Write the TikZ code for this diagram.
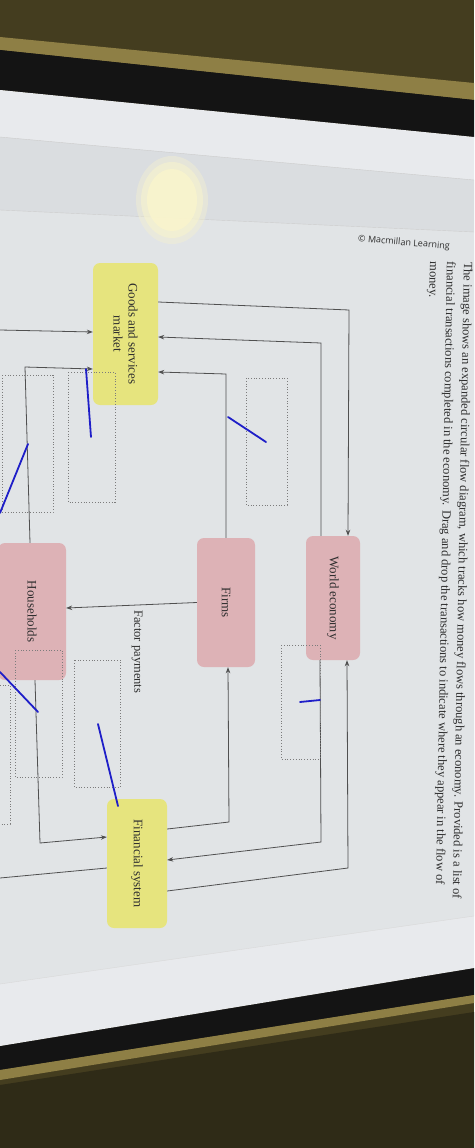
\documentclass[tikz,border=0pt]{standalone}
\usepackage{fontspec}
\setmainfont{Liberation Serif}
\newfontfamily\creditfont{Open Sans}
\usetikzlibrary{arrows.meta, positioning}

\definecolor{fabric}{HTML}{443D1F}
\definecolor{fabricdark}{HTML}{2F2B17}
\definecolor{goldedge}{HTML}{8E7F45}
\definecolor{bezel}{HTML}{141414}
\definecolor{screenlight}{HTML}{E8EAED}
\definecolor{screenband}{HTML}{DADDE0}
\definecolor{content}{HTML}{E1E4E6}
\definecolor{sectorpink}{HTML}{DDB2B6}
\definecolor{marketyellow}{HTML}{E6E47E}
\definecolor{lineclr}{HTML}{505050}
\definecolor{slotclr}{HTML}{7C7C7C}
\definecolor{penblue}{HTML}{1E1EC8}
\definecolor{textclr}{HTML}{2E2E2E}
\definecolor{glare}{HTML}{FAF5CC}

\begin{document}
\begin{tikzpicture}[x=1pt, y=-1pt,
		flow/.style = {
			draw=lineclr, line width=0.8pt, -{Stealth[length=6pt,width=4.5pt]}
		},
		plain/.style = {draw=lineclr, line width=0.8pt},
		sector/.style = {
			rectangle, rounded corners=7pt, fill=sectorpink, rotate=-90,
			align=center, inner sep=2pt, text=textclr,
			font=\fontsize{13}{15}\selectfont
		},
		market/.style = {sector, fill=marketyellow},
		slot/.style = {draw=slotclr, dotted, line width=0.8pt},
		pen/.style = {draw=penblue, line width=1.8pt, line cap=round}]
	\useasboundingbox (0,0) rectangle (474,1148);
	% photo surroundings
	\fill[fabric] (0,0) rectangle (474,1148);
	\fill[fabricdark] (0,1085) -- (474,1012) -- (474,1148) -- (0,1148) -- cycle;
	\fill[goldedge] (0,37) -- (474,83) -- (474,100) -- (0,50) -- cycle;
	\fill[bezel] (0,50) -- (474,100) -- (474,137) -- (0,90) -- cycle;
	\fill[bezel] (0,1046) -- (474,968) -- (474,995) -- (0,1070) -- cycle;
	\fill[goldedge] (0,1070) -- (474,995) -- (474,1003) -- (0,1080) -- cycle;
	\fill[screenlight] (0,90) -- (474,137) -- (474,968) -- (0,1046) -- cycle;
	\fill[screenband] (0,137) -- (474,180) -- (474,232) -- (0,210) -- cycle;
	\fill[content] (0,210) -- (474,232) -- (474,916) -- (0,984) -- cycle;
	\draw[black!20] (0,137) -- (474,180);
	\draw[black!20] (0,210) -- (474,232);
	\draw[black!15] (0,984) -- (474,916);
	% glare of the lamp
	\fill[glare, opacity=0.35] (172,200) ellipse [x radius=36, y radius=44];
	\fill[glare, opacity=0.5] (172,200) ellipse [x radius=31, y radius=38];
	\fill[glare, opacity=0.8] (172,200) ellipse [x radius=25, y radius=31];

	% texts
	\node (credit) [rotate=-5, text=textclr,
	font=\creditfont\fontsize{9}{10}\selectfont] at (404,243) {© Macmillan Learning};
	\node (intro) [rotate=-91, anchor=north west, align=left, inner sep=0pt,
	text=textclr, font=\fontsize{12.5}{17}\selectfont] at (473,262)
	{The image shows an expanded circular flow diagram, which tracks how money flows through an economy. Provided is a list of\\
		financial transactions completed in the economy. Drag and drop the transactions to indicate where they appear in the flow of\\
		money.};

	% sectors
	\node (gsm) [market, minimum width=142pt, minimum height=65pt] at (125.5,334) {Goods and services\\market};
	\node (wec) [sector, minimum width=124pt, minimum height=54pt] at (333,598) {World economy};
	\node (frm) [sector, minimum width=129pt, minimum height=58pt] at (226,602.5) {Firms};
	\node (hh) [sector, minimum width=137pt, minimum height=68pt] at (32,611.5) {Households};
	\node (fin) [market, minimum width=129pt, minimum height=60pt] at (137,863.5) {Financial system};
	\coordinate (gov1) at (0,330);
	\coordinate (gov2) at (0,878);

	% money flows
	\draw[flow] (gsm.north |- 0,302) -- (349,310) -- (wec.west -| 348,0);
	\draw[flow] (wec.west -| 321,0) -- (321,343) -- (gsm.north |- 0,337);
	\draw[flow] (frm.west -| 226,0) -- (226,374) -- (gsm.north |- 0,372);
	\draw[flow] (gov1) -- (gsm.south |- 0,332);
	\draw[flow] (hh.west -| 30,0) -- (25,367) -- (gsm.south |- 0,369);
	\draw[flow] (frm.south) -- (hh.north |- 0,608);
	\node (fp) [rotate=-90, anchor=west, inner sep=0pt, text=textclr,
	font=\fontsize{12.5}{14}\selectfont] at (137,610) {Factor payments};
	\draw[flow] (fin.north |- 0,829) -- (229,822) -- (frm.east -| 228,0);
	\draw[flow] (wec.east -| 320,0) -- (321,842) -- (fin.north |- 0,860);
	\draw[flow] (fin.north |- 0,891) -- (348,868) -- (wec.east -| 347,0);
	\draw[flow] (hh.east -| 35,0) -- (40,843) -- (fin.south |- 0,837);
	\draw[plain] (fin.south |- 0,868) -- (gov2);

	% empty drop targets
	\draw[slot] (2,375) rectangle (53,512);
	\draw[slot] (68,372) rectangle (115,502);
	\draw[slot] (246,378) rectangle (287,505);
	\draw[slot] (281,645) rectangle (320,759);
	\draw[slot] (15,650) rectangle (62,777);
	\draw[slot] (74,660) rectangle (120,787);
	\draw[slot] (-5,685) rectangle (10,824);

	% pen marks
	\draw[pen] (0,513) -- (28,444);
	\draw[pen] (86,369) -- (91,437);
	\draw[pen] (228,417) -- (266,442);
	\draw[pen] (300,702) -- (320,700);
	\draw[pen] (0,672) -- (38,712);
	\draw[pen] (98,724) -- (118,806);
\end{tikzpicture}
\end{document}
